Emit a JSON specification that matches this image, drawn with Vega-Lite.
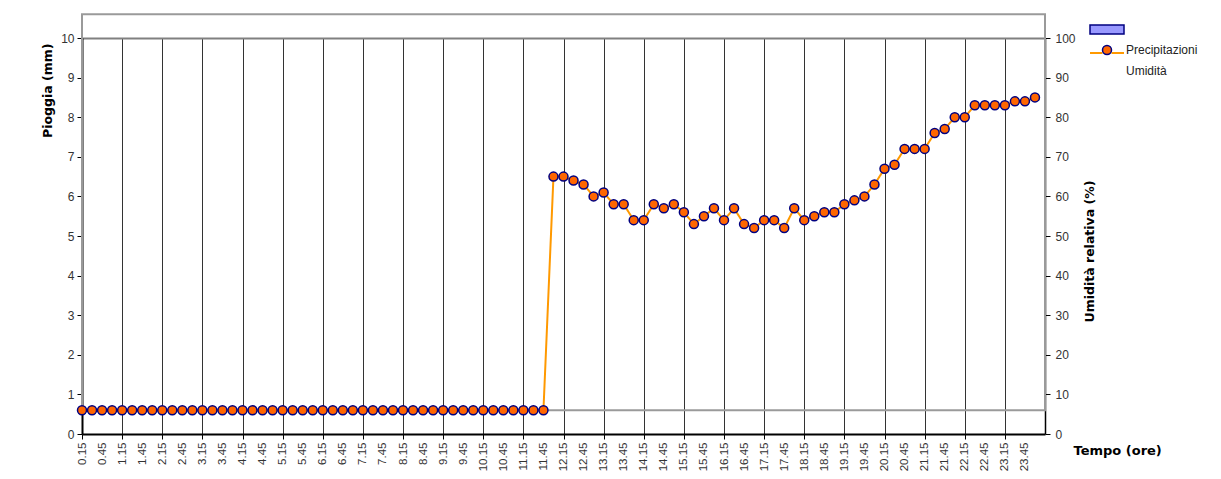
{
  "$schema": "https://vega.github.io/schema/vega-lite/v6.json",
  "width": 963,
  "height": 396,
  "autosize": "none",
  "padding": {"left": 82, "top": 38, "right": 176, "bottom": 45},
  "background": "white",
  "config": {"view": {"stroke": null}, "font": "Liberation Sans", "axis": {"labelOverlap": false, "labelSeparation": 0}},
  "datasets": {
    "cornice": [{"inizio": 15, "fine": 1455, "basso": 0.6, "alto": 10.6}],
    "misure": [
      {"minuti": 15, "umidita": 6, "serie": "Precipitazioni"},
      {"minuti": 30, "umidita": 6, "serie": "Precipitazioni"},
      {"minuti": 45, "umidita": 6, "serie": "Precipitazioni"},
      {"minuti": 60, "umidita": 6, "serie": "Precipitazioni"},
      {"minuti": 75, "umidita": 6, "serie": "Precipitazioni"},
      {"minuti": 90, "umidita": 6, "serie": "Precipitazioni"},
      {"minuti": 105, "umidita": 6, "serie": "Precipitazioni"},
      {"minuti": 120, "umidita": 6, "serie": "Precipitazioni"},
      {"minuti": 135, "umidita": 6, "serie": "Precipitazioni"},
      {"minuti": 150, "umidita": 6, "serie": "Precipitazioni"},
      {"minuti": 165, "umidita": 6, "serie": "Precipitazioni"},
      {"minuti": 180, "umidita": 6, "serie": "Precipitazioni"},
      {"minuti": 195, "umidita": 6, "serie": "Precipitazioni"},
      {"minuti": 210, "umidita": 6, "serie": "Precipitazioni"},
      {"minuti": 225, "umidita": 6, "serie": "Precipitazioni"},
      {"minuti": 240, "umidita": 6, "serie": "Precipitazioni"},
      {"minuti": 255, "umidita": 6, "serie": "Precipitazioni"},
      {"minuti": 270, "umidita": 6, "serie": "Precipitazioni"},
      {"minuti": 285, "umidita": 6, "serie": "Precipitazioni"},
      {"minuti": 300, "umidita": 6, "serie": "Precipitazioni"},
      {"minuti": 315, "umidita": 6, "serie": "Precipitazioni"},
      {"minuti": 330, "umidita": 6, "serie": "Precipitazioni"},
      {"minuti": 345, "umidita": 6, "serie": "Precipitazioni"},
      {"minuti": 360, "umidita": 6, "serie": "Precipitazioni"},
      {"minuti": 375, "umidita": 6, "serie": "Precipitazioni"},
      {"minuti": 390, "umidita": 6, "serie": "Precipitazioni"},
      {"minuti": 405, "umidita": 6, "serie": "Precipitazioni"},
      {"minuti": 420, "umidita": 6, "serie": "Precipitazioni"},
      {"minuti": 435, "umidita": 6, "serie": "Precipitazioni"},
      {"minuti": 450, "umidita": 6, "serie": "Precipitazioni"},
      {"minuti": 465, "umidita": 6, "serie": "Precipitazioni"},
      {"minuti": 480, "umidita": 6, "serie": "Precipitazioni"},
      {"minuti": 495, "umidita": 6, "serie": "Precipitazioni"},
      {"minuti": 510, "umidita": 6, "serie": "Precipitazioni"},
      {"minuti": 525, "umidita": 6, "serie": "Precipitazioni"},
      {"minuti": 540, "umidita": 6, "serie": "Precipitazioni"},
      {"minuti": 555, "umidita": 6, "serie": "Precipitazioni"},
      {"minuti": 570, "umidita": 6, "serie": "Precipitazioni"},
      {"minuti": 585, "umidita": 6, "serie": "Precipitazioni"},
      {"minuti": 600, "umidita": 6, "serie": "Precipitazioni"},
      {"minuti": 615, "umidita": 6, "serie": "Precipitazioni"},
      {"minuti": 630, "umidita": 6, "serie": "Precipitazioni"},
      {"minuti": 645, "umidita": 6, "serie": "Precipitazioni"},
      {"minuti": 660, "umidita": 6, "serie": "Precipitazioni"},
      {"minuti": 675, "umidita": 6, "serie": "Precipitazioni"},
      {"minuti": 690, "umidita": 6, "serie": "Precipitazioni"},
      {"minuti": 705, "umidita": 6, "serie": "Precipitazioni"},
      {"minuti": 720, "umidita": 65, "serie": "Precipitazioni"},
      {"minuti": 735, "umidita": 65, "serie": "Precipitazioni"},
      {"minuti": 750, "umidita": 64, "serie": "Precipitazioni"},
      {"minuti": 765, "umidita": 63, "serie": "Precipitazioni"},
      {"minuti": 780, "umidita": 60, "serie": "Precipitazioni"},
      {"minuti": 795, "umidita": 61, "serie": "Precipitazioni"},
      {"minuti": 810, "umidita": 58, "serie": "Precipitazioni"},
      {"minuti": 825, "umidita": 58, "serie": "Precipitazioni"},
      {"minuti": 840, "umidita": 54, "serie": "Precipitazioni"},
      {"minuti": 855, "umidita": 54, "serie": "Precipitazioni"},
      {"minuti": 870, "umidita": 58, "serie": "Precipitazioni"},
      {"minuti": 885, "umidita": 57, "serie": "Precipitazioni"},
      {"minuti": 900, "umidita": 58, "serie": "Precipitazioni"},
      {"minuti": 915, "umidita": 56, "serie": "Precipitazioni"},
      {"minuti": 930, "umidita": 53, "serie": "Precipitazioni"},
      {"minuti": 945, "umidita": 55, "serie": "Precipitazioni"},
      {"minuti": 960, "umidita": 57, "serie": "Precipitazioni"},
      {"minuti": 975, "umidita": 54, "serie": "Precipitazioni"},
      {"minuti": 990, "umidita": 57, "serie": "Precipitazioni"},
      {"minuti": 1005, "umidita": 53, "serie": "Precipitazioni"},
      {"minuti": 1020, "umidita": 52, "serie": "Precipitazioni"},
      {"minuti": 1035, "umidita": 54, "serie": "Precipitazioni"},
      {"minuti": 1050, "umidita": 54, "serie": "Precipitazioni"},
      {"minuti": 1065, "umidita": 52, "serie": "Precipitazioni"},
      {"minuti": 1080, "umidita": 57, "serie": "Precipitazioni"},
      {"minuti": 1095, "umidita": 54, "serie": "Precipitazioni"},
      {"minuti": 1110, "umidita": 55, "serie": "Precipitazioni"},
      {"minuti": 1125, "umidita": 56, "serie": "Precipitazioni"},
      {"minuti": 1140, "umidita": 56, "serie": "Precipitazioni"},
      {"minuti": 1155, "umidita": 58, "serie": "Precipitazioni"},
      {"minuti": 1170, "umidita": 59, "serie": "Precipitazioni"},
      {"minuti": 1185, "umidita": 60, "serie": "Precipitazioni"},
      {"minuti": 1200, "umidita": 63, "serie": "Precipitazioni"},
      {"minuti": 1215, "umidita": 67, "serie": "Precipitazioni"},
      {"minuti": 1230, "umidita": 68, "serie": "Precipitazioni"},
      {"minuti": 1245, "umidita": 72, "serie": "Precipitazioni"},
      {"minuti": 1260, "umidita": 72, "serie": "Precipitazioni"},
      {"minuti": 1275, "umidita": 72, "serie": "Precipitazioni"},
      {"minuti": 1290, "umidita": 76, "serie": "Precipitazioni"},
      {"minuti": 1305, "umidita": 77, "serie": "Precipitazioni"},
      {"minuti": 1320, "umidita": 80, "serie": "Precipitazioni"},
      {"minuti": 1335, "umidita": 80, "serie": "Precipitazioni"},
      {"minuti": 1350, "umidita": 83, "serie": "Precipitazioni"},
      {"minuti": 1365, "umidita": 83, "serie": "Precipitazioni"},
      {"minuti": 1380, "umidita": 83, "serie": "Precipitazioni"},
      {"minuti": 1395, "umidita": 83, "serie": "Precipitazioni"},
      {"minuti": 1410, "umidita": 84, "serie": "Precipitazioni"},
      {"minuti": 1425, "umidita": 84, "serie": "Precipitazioni"},
      {"minuti": 1440, "umidita": 85, "serie": "Precipitazioni"}
    ]
  },
  "layer": [
    {
      "data": {"name": "cornice"},
      "mark": {"type": "rect", "fill": "transparent", "stroke": "#9a9a9a", "strokeWidth": 2, "clip": false},
      "encoding": {
        "x": {
          "field": "inizio", "type": "quantitative",
          "scale": {"domain": [15, 1455], "nice": false, "zero": false},
          "axis": {
            "orient": "bottom",
            "title": "Tempo (ore)",
            "values": [15, 45, 75, 105, 135, 165, 195, 225, 255, 285, 315, 345, 375, 405, 435, 465, 495, 525, 555, 585, 615, 645, 675, 705, 735, 765, 795, 825, 855, 885, 915, 945, 975, 1005, 1035, 1065, 1095, 1125, 1155, 1185, 1215, 1245, 1275, 1305, 1335, 1365, 1395, 1425],
            "labelExpr": "floor(datum.value / 60) + '.' + (datum.value % 60)",
            "labelAngle": -90, "labelAlign": "right", "labelBaseline": "middle",
            "labelFont": "Liberation Sans", "labelFontSize": 11.5, "labelColor": "#333333",
            "labelPadding": 8, "labelOverlap": false, "labelSeparation": 0, "labelFlush": false, "labelBound": false,
            "grid": true, "gridColor": "#333333", "gridWidth": 1,
            "gridOpacity": {"condition": {"test": "datum.value % 60 == 15 && datum.value > 15", "value": 1}, "value": 0},
            "ticks": false, "tickSize": 0,
            "domainColor": "black", "domainWidth": 2,
            "titleFont": "DejaVu Sans", "titleFontWeight": "bold", "titleFontSize": 13, "titleColor": "black",
            "titleAngle": 0, "titleAlign": "left", "titleBaseline": "alphabetic", "titleX": 991, "titleY": 20
          }
        },
        "x2": {"field": "fine"},
        "y": {
          "field": "basso", "type": "quantitative",
          "scale": {"domain": [0, 10], "nice": false},
          "axis": {
            "title": "Pioggia (mm)",
            "values": [0, 1, 2, 3, 4, 5, 6, 7, 8, 9, 10],
            "grid": true, "gridColor": "#808080", "gridWidth": 2,
            "gridOpacity": {"condition": {"test": "datum.value == 10", "value": 1}, "value": 0},
            "domainColor": "black", "domainWidth": 2,
            "tickColor": "black", "tickSize": 5, "tickWidth": 1,
            "labelFont": "Liberation Sans", "labelFontSize": 12, "labelColor": "#333333", "labelPadding": 3,
            "titleFont": "DejaVu Sans", "titleFontWeight": "bold", "titleFontSize": 12.5, "titleColor": "black",
            "titleAngle": 270, "titleAlign": "right", "titleBaseline": "middle", "titleX": -35, "titleY": 5
          }
        },
        "y2": {"field": "alto"}
      }
    },
    {
      "data": {"name": "misure"},
      "encoding": {
        "x": {
          "field": "minuti", "type": "quantitative",
          "scale": {"domain": [15, 1455], "nice": false, "zero": false},
          "axis": {
            "orient": "bottom", "title": null,
            "values": [15, 75, 135, 195, 255, 315, 375, 435, 495, 555, 615, 675, 735, 795, 855, 915, 975, 1035, 1095, 1155, 1215, 1275, 1335, 1395],
            "labels": false, "domain": false, "grid": false,
            "ticks": true, "tickColor": "black", "tickSize": 5, "tickWidth": 1
          }
        },
        "y": {
          "field": "umidita", "type": "quantitative",
          "scale": {"domain": [0, 100], "nice": false},
          "axis": {
            "orient": "right",
            "title": "Umidità relativa (%)",
            "values": [0, 10, 20, 30, 40, 50, 60, 70, 80, 90, 100],
            "grid": false,
            "domainColor": "black", "domainWidth": 1.5,
            "tickColor": "black", "tickSize": 5, "tickWidth": 1,
            "labelFont": "Liberation Sans", "labelFontSize": 12, "labelColor": "#333333", "labelPadding": 5,
            "titleFont": "DejaVu Sans", "titleFontWeight": "bold", "titleFontSize": 12.5, "titleColor": "black",
            "titleAngle": 270, "titleAlign": "center", "titleBaseline": "middle", "titleX": 44, "titleY": 213
          }
        }
      },
      "layer": [
        {
          "mark": {"type": "line", "color": "#FF9900", "strokeWidth": 2},
          "encoding": {
            "strokeDash": {
              "field": "serie", "type": "nominal",
              "scale": {"domain": ["Precipitazioni"], "range": [[1, 0]]},
              "legend": {
                "title": null, "orient": "none", "legendX": 1014, "legendY": 4,
                "symbolType": "M-1.7,0H-0.45M0.45,0H1.7",
                "symbolSize": 400, "symbolStrokeWidth": 2, "symbolStrokeColor": "#FF9900", "symbolFillColor": "transparent",
                "labelExpr": "''", "labelOffset": 8
              }
            }
          }
        },
        {
          "mark": {"type": "point", "filled": true, "stroke": "#000080", "strokeWidth": 1.5, "size": 400, "opacity": 1},
          "encoding": {
            "color": {
              "field": "serie", "type": "nominal",
              "scale": {"domain": [" ", "Precipitazioni", "Umidità"], "range": ["#9999FF", "#FF6600", "#FFFFFF"]},
              "legend": {
                "title": null, "orient": "none", "legendX": 1014, "legendY": -19.5,
                "symbolSize": 400, "symbolStrokeWidth": 1.5, "rowPadding": 1.5,
                "labelOffset": 8, "labelFont": "Liberation Sans", "labelFontSize": 12, "labelColor": "#222222"
              }
            },
            "shape": {
              "field": "serie", "type": "nominal",
              "scale": {"domain": [" ", "Precipitazioni", "Umidità"], "range": ["M-1.7,-0.45H1.7V0.45H-1.7Z", "M-0.45,0A0.45,0.45 0 1,1 0.45,0A0.45,0.45 0 1,1 -0.45,0Z", "M0,0Z"]},
              "legend": {
                "title": null, "orient": "none", "legendX": 1014, "legendY": -19.5,
                "symbolSize": 400, "symbolStrokeWidth": 1.5, "rowPadding": 1.5,
                "labelOffset": 8, "labelFont": "Liberation Sans", "labelFontSize": 12, "labelColor": "#222222"
              }
            }
          }
        }
      ]
    }
  ],
  "resolve": {"scale": {"y": "independent"}, "axis": {"x": "independent"}}
}
